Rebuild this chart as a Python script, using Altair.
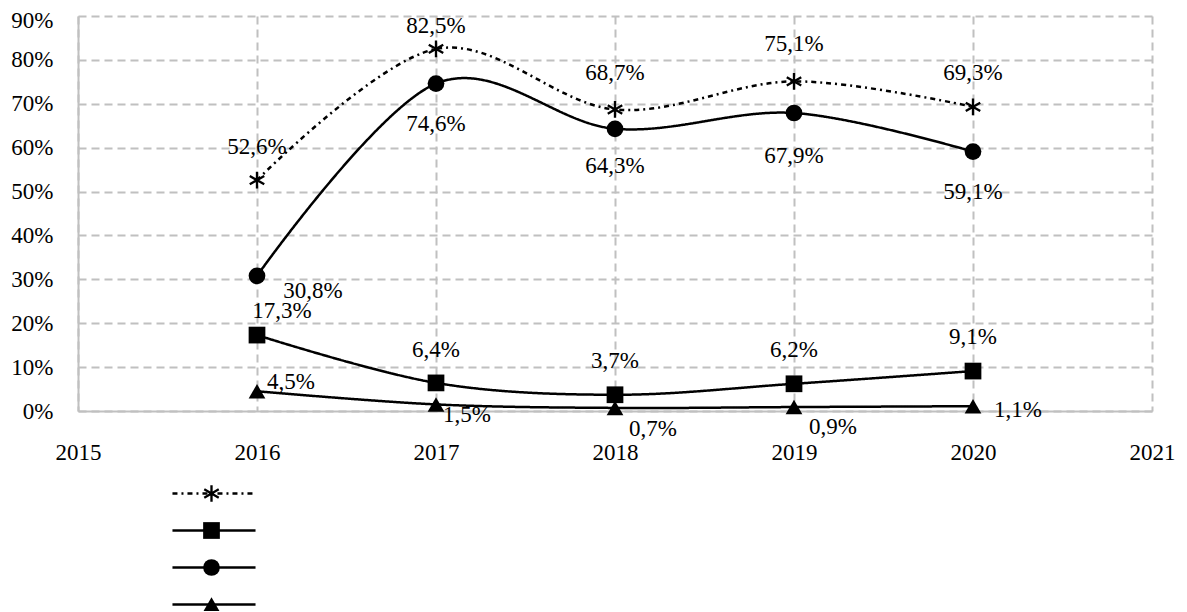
import altair as alt
import pandas as pd

years = [2016, 2017, 2018, 2019, 2020]
series_names = ["S1", "S2", "S3", "S4"]
s1 = [52.6, 82.5, 68.7, 75.1, 69.3]
s2 = [17.3, 6.4, 3.7, 6.2, 9.1]
s3 = [30.8, 74.6, 64.3, 67.9, 59.1]
s4 = [4.5, 1.5, 0.7, 0.9, 1.1]
x_ticks = [2015, 2016, 2017, 2018, 2019, 2020, 2021]
y_ticks = [0, 10, 20, 30, 40, 50, 60, 70, 80, 90]

rows = []
for name, vals in zip(series_names, [s1, s2, s3, s4]):
    for yr, v in zip(years, vals):
        rows.append({"series": name, "year": yr, "value": v,
                     "label": f"{v:.1f}".replace(".", ",") + "%"})
df = pd.DataFrame(rows)

FONT = "Liberation Serif"
FS = 23
GRID = "#c0c0c0"

x_enc = alt.X("year:Q", scale=alt.Scale(domain=[2015, 2021], nice=False, zero=False),
              axis=alt.Axis(values=x_ticks, format="d", title=None, grid=True,
                            gridDash=[8, 5], gridColor=GRID, gridWidth=2,
                            domainColor=GRID, domainWidth=2, ticks=False,
                            labelPadding=30, labelFont=FONT, labelFontSize=FS,
                            labelColor="black", labelFlush=False))
y_enc = alt.Y("value:Q", scale=alt.Scale(domain=[0, 90], nice=False),
              axis=alt.Axis(values=y_ticks, labelExpr="datum.value + '%'", title=None,
                            grid=True, gridDash=[8, 5], gridColor=GRID, gridWidth=2,
                            domainColor=GRID, domainWidth=2, ticks=False,
                            labelPadding=25, labelFont=FONT, labelFontSize=FS,
                            labelColor="black", labelFlush=False,
                            labelOffset={"condition": {"test": "datum.value == 90", "value": 4},
                                         "value": 0}))

# filled asterisk (three crossing bars)
star = ("M-0.14,1L-0.14,-1L0.14,-1L0.14,1Z"
        "M0.796,0.621L-0.936,-0.379L-0.796,-0.621L0.936,0.379Z"
        "M0.936,-0.379L-0.796,0.621L-0.936,0.379L0.796,-0.621Z")

lines = alt.Chart(df).mark_line(interpolate="cardinal", strokeWidth=2.5, color="black").encode(
    x=x_enc, y=y_enc,
    strokeDash=alt.StrokeDash("series:N",
        scale=alt.Scale(domain=series_names, range=[[5, 4, 2, 4], [1, 0], [1, 0], [1, 0]]),
        legend=alt.Legend(orient="none", legendX=93, legendY=459, title=None,
                          labelExpr="''", symbolType="stroke", symbolSize=6900,
                          symbolStrokeWidth=2.5, symbolStrokeColor="black",
                          clipHeight=37, rowPadding=0, padding=0)),
)

points = alt.Chart(df).mark_point(filled=True, size=280, color="black", opacity=1).encode(
    x=x_enc, y=y_enc,
    shape=alt.Shape("series:N",
        scale=alt.Scale(domain=series_names, range=[star, "square", "circle", "triangle-up"]),
        legend=alt.Legend(orient="none", legendX=125, legendY=459, title=None,
                          labelExpr="''", symbolSize=280, symbolFillColor="black",
                          symbolStrokeColor="black", symbolStrokeWidth=0,
                          symbolOpacity=1, clipHeight=37, rowPadding=0, padding=0)),
)

offsets = {
    ("S1", 2016): (0, -33), ("S1", 2017): (0, -23), ("S1", 2018): (0, -36),
    ("S1", 2019): (0, -37), ("S1", 2020): (0, -34),
    ("S3", 2016): (56, 15), ("S3", 2017): (0, 40), ("S3", 2018): (0, 37),
    ("S3", 2019): (0, 43), ("S3", 2020): (0, 40),
    ("S2", 2016): (25, -24), ("S2", 2017): (0, -33), ("S2", 2018): (0, -34),
    ("S2", 2019): (0, -34), ("S2", 2020): (0, -34),
    ("S4", 2016): (34, -9), ("S4", 2017): (31, 11), ("S4", 2018): (38, 21),
    ("S4", 2019): (39, 20), ("S4", 2020): (45, 4),
}

texts = []
for (sname, yr), (dx, dy) in offsets.items():
    texts.append(
        alt.Chart(df).mark_text(font=FONT, fontSize=FS, color="black", dx=dx, dy=dy,
                                align="center", baseline="middle")
        .encode(x=x_enc, y=y_enc, text="label:N")
        .transform_filter((alt.datum.series == sname) & (alt.datum.year == yr))
    )

chart = alt.layer(lines, points, *texts).resolve_legend(
    shape="independent", strokeDash="independent"
).properties(
    width=1074, height=395,
    autosize=alt.AutoSizeParams(type="none"),
    padding={"left": 70, "top": 8, "right": 27, "bottom": 200},
).configure_view(stroke=None)

chart.save("out.html", embed_options={"renderer": "svg", "actions": False})
